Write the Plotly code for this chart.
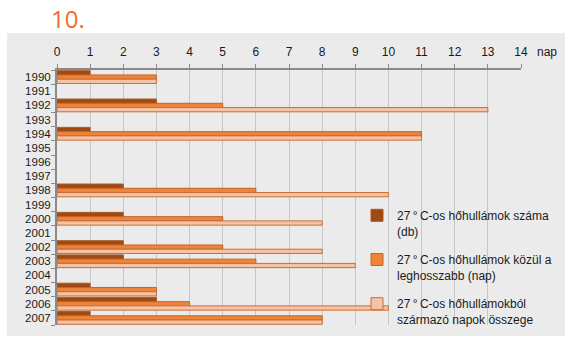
import plotly.graph_objects as go

# Years on the category axis (top to bottom)
years = [str(y) for y in range(1990, 2008)]

# Number of 27 °C heat waves per year
wave_count = [1, None, 3, None, 1, None, None, None, 2, None, 2, None, 2, 2, None, 1, 3, 1]
# Length of the longest 27 °C heat wave (days)
longest_wave = [3, None, 5, None, 11, None, None, None, 6, None, 5, None, 5, 6, None, 3, 4, 8]
# Total number of days in 27 °C heat waves
total_days = [3, None, 13, None, 11, None, None, None, 10, None, 8, None, 8, 9, None, 3, 10, 8]

x_ticks = list(range(0, 15))

series_names = [
    "27\u2009°\u2009C-os hőhullámok száma<br>(db)",
    "27\u2009°\u2009C-os hőhullámok közül a<br>leghosszabb (nap)",
    "27\u2009°\u2009C-os hőhullámokból<br>származó napok összege",
]
fill_colors = ["#9e4a14", "#ee8439", "#f7c3a6"]
edge_colors = ["#b0561c", "#c4642a", "#c86e36"]

W, H = 565, 340
L, R, T, B = 57, 44, 70, 15
pw, ph = W - L - R, H - T - B


def px_x(p):
    return (p - L) / pw


def px_y(p):
    return (H - B - p) / ph


fig = go.Figure()
for i, vals in enumerate([wave_count, longest_wave, total_days]):
    fig.add_trace(go.Bar(
        y=years, x=vals, orientation="h", name=series_names[i],
        legendgroup=f"g{i}",
        marker=dict(color=fill_colors[i], line=dict(color=edge_colors[i], width=1)),
    ))

font_family = "Liberation Sans, Arial, sans-serif"

fig.update_layout(
    width=W, height=H,
    margin=dict(l=L, r=R, t=T, b=B, autoexpand=False),
    paper_bgcolor="white",
    plot_bgcolor="rgba(0,0,0,0)",
    barmode="group", bargap=0.1, bargroupgap=0,
    font=dict(family=font_family, size=12, color="#1a1a1a"),
    xaxis=dict(
        side="top", range=[0, 14], tickvals=x_ticks, ticktext=[str(v) for v in x_ticks],
        showgrid=True, gridcolor="#c6c6c6", gridwidth=1,
        showline=True, linecolor="#8a8a8a", linewidth=2,
        ticks="outside", ticklen=4, tickcolor="#8a8a8a", tickwidth=1,
        ticklabelstandoff=3, zeroline=False,
    ),
    yaxis=dict(
        type="category", categoryorder="array", categoryarray=years,
        tickmode="array", tickvals=years, ticktext=years,
        autorange="reversed", showgrid=False,
        showline=True, linecolor="#8a8a8a", linewidth=2,
        ticks="outside", ticklen=4, tickcolor="#8a8a8a", tickson="boundaries",
        ticklabelstandoff=2, tickfont=dict(size=11.5),
    ),
    legend=dict(
        x=px_x(357), y=px_y(334), xanchor="left", yanchor="bottom",
        bgcolor="rgba(0,0,0,0)", tracegroupgap=10, valign="top",
        font=dict(family=font_family, size=12, color="#1a1a1a"),
        itemwidth=30,
    ),
    shapes=[dict(
        type="rect", xref="paper", yref="paper", layer="below",
        x0=px_x(7), x1=px_x(566), y0=px_y(336), y1=px_y(33),
        fillcolor="#ebebeb", line=dict(width=0),
    )],
    annotations=[
        dict(text="10.", xref="paper", yref="paper", x=px_x(49), y=px_y(18),
             xanchor="left", yanchor="middle", showarrow=False,
             font=dict(family="Open Sans, sans-serif", size=24, color="#f26b2a")),
        dict(text="nap", xref="paper", yref="paper", x=px_x(535), y=px_y(52),
             xanchor="left", yanchor="middle", showarrow=False,
             font=dict(family=font_family, size=12, color="#1a1a1a")),
    ],
)

fig.write_html("out.html")
